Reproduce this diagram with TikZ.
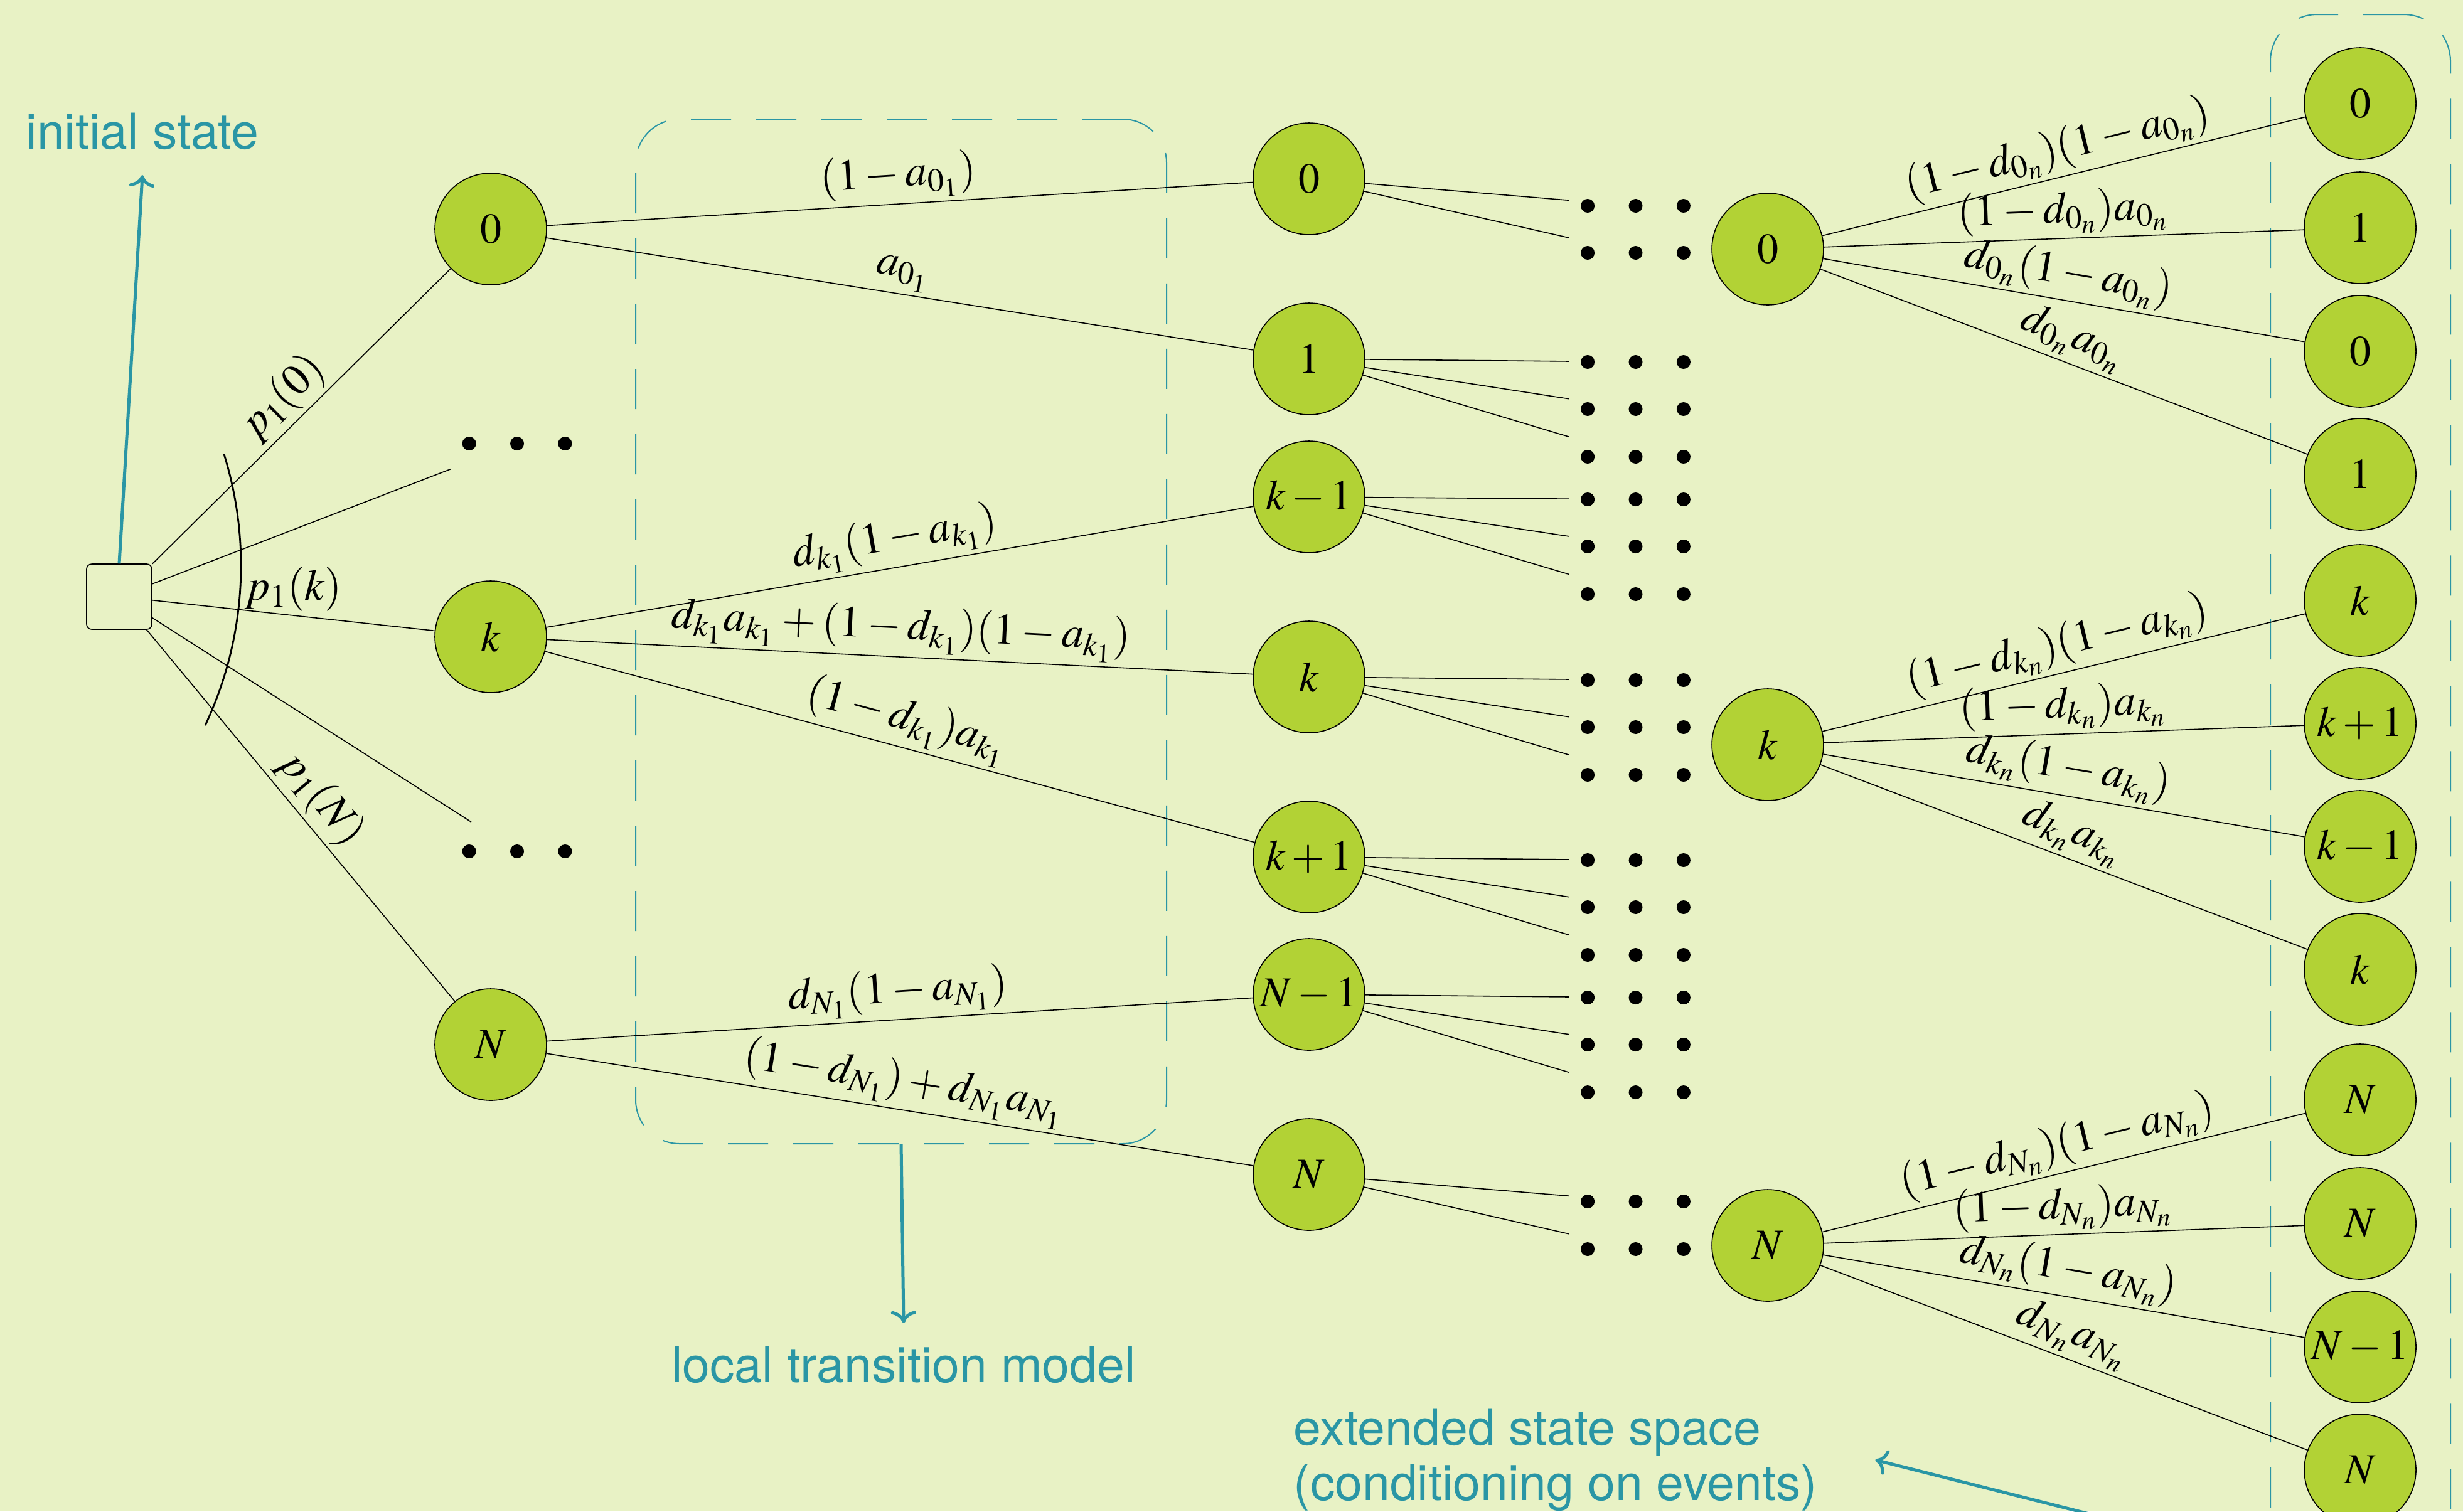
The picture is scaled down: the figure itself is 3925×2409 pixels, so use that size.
\documentclass[tikz,border=0pt]{standalone}
\usepackage{mathptmx}
\usepackage[no-math]{fontspec}
\newfontfamily\heros{TeX Gyre Heros}
\usetikzlibrary{arrows.meta}
\definecolor{bgc}{HTML}{E8F2C5}
\definecolor{nodec}{HTML}{B2D235}
\definecolor{tealc}{HTML}{2A96A5}
\tikzset{
  st/.style={circle, draw=black, line width=0.4pt, fill=nodec, minimum size=44.5pt, inner sep=0pt, font=\fontsize{17}{20}\selectfont},
  dotrow/.style={rectangle, minimum width=52.5pt, minimum height=23pt, inner sep=0pt},
  edge/.style={draw=black, line width=0.4pt},
  lab/.style={sloped, above, pos=0.5, inner sep=1.5pt, font=\fontsize{17.5}{20}\selectfont},
  tlab/.style={text=tealc, font=\heros\fontsize{19.7}{22}\selectfont},
  dbox/.style={draw=tealc, line width=0.5pt, dash pattern=on 16pt off 10pt, rounded corners=17.5pt, inner sep=0pt},
  callout/.style={draw=tealc, line width=1.25pt, -{To[scale=1.1]}},
}
\newcommand\dotsrow[3]{%
  \node[dotrow] (#1) at (#2,#3) {};
  \foreach \dx in {-19.1,0,19.1} \fill ([xshift=\dx pt]#1.center) circle[radius=2.75pt];
}
\begin{document}
\begin{tikzpicture}[x=0.25pt,y=-0.25pt]
\path[use as bounding box, fill=bgc] (0,0) rectangle (3925,2409);
\clip (0,0) rectangle (3925,2409);

% dashed boxes
\node[dbox, minimum width=211.5pt, minimum height=408.25pt] (ltm) at (1436,1006.5) {};
\node[dbox, minimum width=71.75pt, minimum height=624.5pt, rounded corners=18.75pt] (ess) at (3761.5,1272) {};

% initial square
\node[draw=black, line width=0.4pt, rounded corners=2pt, minimum size=26pt, inner sep=0pt] (sq) at (190,951) {};

% column 1
\node[st] (n0) at (782,365) {$0$};
\node[st] (nk) at (782,1015) {$k$};
\node[st] (nN) at (782,1665) {$N$};
\dotsrow{d1}{824}{707}
\dotsrow{d2}{824}{1357}

% column 2
\node[st] (m0)  at (2086,285)  {$0$};
\node[st] (m1)  at (2086,572)  {$1$};
\node[st] (mkm) at (2086,792)  {$k-1$};
\node[st] (mk)  at (2086,1079) {$k$};
\node[st] (mkp) at (2086,1366) {$k+1$};
\node[st] (mNm) at (2086,1585) {$N-1$};
\node[st] (mN)  at (2086,1872) {$N$};

% column 3 (dots)
\foreach \i/\y in {1/328,2/403,3/577,4/652,5/728,6/796,7/871,8/947,9/1084,10/1159,11/1235,12/1371,13/1446,14/1522,15/1590,16/1665,17/1741,18/1915,19/1991}{
  \dotsrow{r\i}{2606.5}{\y}
}

% column 4
\node[st] (q0) at (2817,397)  {$0$};
\node[st] (qk) at (2817,1187) {$k$};
\node[st] (qN) at (2817,1985) {$N$};

% column 5
\node[st] (p1)  at (3761,165)  {$0$};
\node[st] (p2)  at (3761,363)  {$1$};
\node[st] (p3)  at (3761,560)  {$0$};
\node[st] (p4)  at (3761,756)  {$1$};
\node[st] (p5)  at (3761,957)  {$k$};
\node[st] (p6)  at (3761,1153) {$k+1$};
\node[st] (p7)  at (3761,1349) {$k-1$};
\node[st] (p8)  at (3761,1545) {$k$};
\node[st] (p9)  at (3761,1753) {$N$};
\node[st] (p10) at (3761,1950) {$N$};
\node[st] (p11) at (3761,2147) {$N-1$};
\node[st] (p12) at (3761,2343) {$N$};

% edges from the initial state
\draw[edge] (sq) -- (n0) node[lab] {$p_1(0)$};
\draw[edge] (sq) -- (d1);
\draw[edge] (sq) -- (nk) node[pos=0.5, above, inner sep=1.5pt, font=\fontsize{17.5}{20}\selectfont] {$p_1(k)$};
\draw[edge] (sq) -- (d2);
\draw[edge] (sq) -- (nN) node[lab] {$p_1(N)$};
\draw[black, line width=0.7pt] (357,724) arc[start angle=-17.3, end angle=25.25, radius=597];

% local transition model edges
\draw[edge] (n0) -- (m0) node[lab] {$(1-a_{0_1})$};
\draw[edge] (n0) -- (m1) node[lab] {$a_{0_1}$};
\draw[edge] (nk) -- (mkm) node[lab] {$d_{k_1}(1-a_{k_1})$};
\draw[edge] (nk) -- (mk) node[lab] {$d_{k_1}a_{k_1}+(1-d_{k_1})(1-a_{k_1})$};
\draw[edge] (nk) -- (mkp) node[lab] {$(1-d_{k_1})a_{k_1}$};
\draw[edge] (nN) -- (mNm) node[lab] {$d_{N_1}(1-a_{N_1})$};
\draw[edge] (nN) -- (mN) node[lab] {$(1-d_{N_1})+d_{N_1}a_{N_1}$};

% column 2 to dots
\foreach \a/\b in {m0/r1,m0/r2,m1/r3,m1/r4,m1/r5,mkm/r6,mkm/r7,mkm/r8,mk/r9,mk/r10,mk/r11,mkp/r12,mkp/r13,mkp/r14,mNm/r15,mNm/r16,mNm/r17,mN/r18,mN/r19}{
  \draw[edge] (\a) -- (\b);
}

% extended state space edges
\draw[edge] (q0) -- (p1) node[lab] {$(1-d_{0_n})(1-a_{0_n})$};
\draw[edge] (q0) -- (p2) node[lab] {$(1-d_{0_n})a_{0_n}$};
\draw[edge] (q0) -- (p3) node[lab] {$d_{0_n}(1-a_{0_n})$};
\draw[edge] (q0) -- (p4) node[lab] {$d_{0_n}a_{0_n}$};
\draw[edge] (qk) -- (p5) node[lab] {$(1-d_{k_n})(1-a_{k_n})$};
\draw[edge] (qk) -- (p6) node[lab] {$(1-d_{k_n})a_{k_n}$};
\draw[edge] (qk) -- (p7) node[lab] {$d_{k_n}(1-a_{k_n})$};
\draw[edge] (qk) -- (p8) node[lab] {$d_{k_n}a_{k_n}$};
\draw[edge] (qN) -- (p9) node[lab] {$(1-d_{N_n})(1-a_{N_n})$};
\draw[edge] (qN) -- (p10) node[lab] {$(1-d_{N_n})a_{N_n}$};
\draw[edge] (qN) -- (p11) node[lab] {$d_{N_n}(1-a_{N_n})$};
\draw[edge] (qN) -- (p12) node[lab] {$d_{N_n}a_{N_n}$};

% teal labels and callouts
\node[tlab, anchor=base, inner sep=10pt] (is) at (227,237) {initial state};
\node[tlab, anchor=base, inner sep=9pt] (ltml) at (1440,2203) {local transition model};
\node[tlab, anchor=west, align=left, inner sep=0pt, inner xsep=23pt] (esl) at (1969,2327) {extended state space\\(conditioning on events)};
\draw[callout] (sq.north) -- (is.south);
\draw[callout] (ltm.south) -- (ltml.north);
\draw[callout] (ess.south) -- (esl.east);
\end{tikzpicture}
\end{document}
